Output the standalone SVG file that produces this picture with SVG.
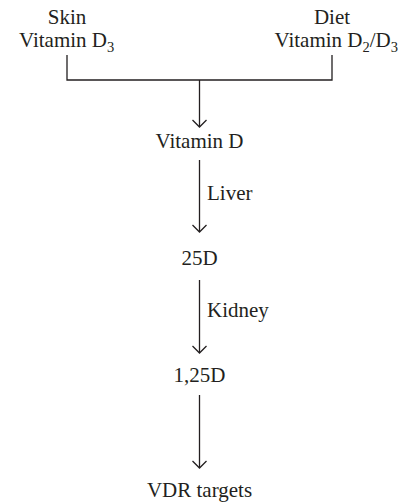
<svg xmlns="http://www.w3.org/2000/svg" width="402" height="504" viewBox="0 0 402 504">
<style>
text{font-family:"Liberation Serif","Times New Roman",serif;font-size:21px;fill:#231f20}
.c{text-anchor:middle}
.e{text-anchor:end}
.sub{font-size:14.5px}
.ln{stroke:#231f20;stroke-width:1.3;fill:none}
</style>
<defs>
<marker id="ah" viewBox="0 0 16 16" refX="14" refY="8" markerWidth="16" markerHeight="16" markerUnits="userSpaceOnUse" orient="auto">
<path d="M7,1 L14,8 L7,15" fill="none" stroke="#231f20" stroke-width="1.3"/>
</marker>
</defs>
<rect width="402" height="504" fill="#fff"/>
<g id="connectors">
<path class="ln" d="M67,55 V80 H332 V55"/>
<line class="ln" x1="199.5" y1="80" x2="199.5" y2="127" marker-end="url(#ah)"/>
<line class="ln" x1="199.5" y1="160" x2="199.5" y2="232" marker-end="url(#ah)"/>
<line class="ln" x1="199.5" y1="280" x2="199.5" y2="353" marker-end="url(#ah)"/>
<line class="ln" x1="199.5" y1="395" x2="199.5" y2="468" marker-end="url(#ah)"/>
</g>
<g id="skin"><text class="c" x="67" y="24">Skin</text><text x="19" y="47">Vitamin D<tspan class="sub" dy="5">3</tspan></text></g>
<g id="diet"><text class="c" x="332" y="24">Diet</text><text class="e" x="398" y="47">Vitamin D<tspan class="sub" dy="5">2</tspan><tspan dy="-5">/D</tspan><tspan class="sub" dy="5">3</tspan></text></g>
<g id="vitd"><text class="c" x="199.5" y="148">Vitamin D</text></g>
<g id="liver"><text x="207" y="200">Liver</text></g>
<g id="d25"><text class="c" x="199.5" y="265">25D</text></g>
<g id="kidney"><text x="207" y="317">Kidney</text></g>
<g id="d125"><text class="c" x="199.5" y="382">1,25D</text></g>
<g id="vdr"><text class="c" x="199.5" y="497">VDR targets</text></g>
</svg>
